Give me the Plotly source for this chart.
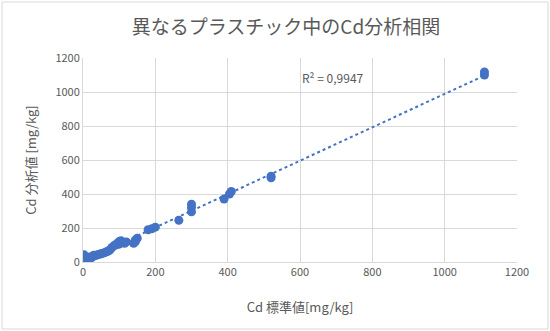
import numpy as np
import plotly.graph_objects as go

# Data
std_vals = [0, 0, 0, 1, 2, 3, 5, 8, 10, 12, 15, 18, 20, 25, 28, 30, 35, 40, 45, 50,
            55, 60, 65, 70, 75, 80, 85, 90, 95, 100, 100, 105, 110, 115, 120,
            140, 145, 150, 145, 180, 190, 200, 265, 300, 300, 300, 390, 405, 410,
            520, 520, 1110, 1110]
meas_vals = [5, 12, 20, 28, 38, 42, 8, 15, 20, 25, 18, 30, 22, 28, 35, 40, 38, 42, 45, 48,
             52, 55, 60, 65, 72, 85, 95, 100, 110, 105, 120, 125, 115, 110, 118,
             110, 130, 140, 120, 190, 195, 205, 245, 295, 320, 340, 370, 400, 415,
             495, 505, 1100, 1118]
x_ticks = [0, 200, 400, 600, 800, 1000, 1200]
y_ticks = [0, 200, 400, 600, 800, 1000, 1200]
title_text = "異なるプラスチック中のCd分析相関"
x_title = "Cd 標準値[mg/kg]"
y_title = "Cd 分析値 [mg/kg]"
r2_text = "R² = 0,9947"

W, H = 550, 331
ml, mr, mt, mb = 83, 33, 58, 69

xs = np.array(std_vals, dtype=float)
ys = np.array(meas_vals, dtype=float)
slope, intercept = np.polyfit(xs, ys, 1)
fx = np.array([xs.min(), xs.max()])
fy = slope * fx + intercept

blue = "#4472C4"
gray = "#595959"
grid = "#D9D9D9"
font = "Noto Sans CJK JP"

fig = go.Figure()
fig.add_trace(go.Scatter(x=xs, y=ys, mode="markers",
                         marker=dict(color=blue, size=9, line=dict(width=0)),
                         showlegend=False, hoverinfo="skip"))
fig.add_trace(go.Scatter(x=fx, y=fy, mode="lines",
                         line=dict(color=blue, width=2, dash="dot"),
                         showlegend=False, hoverinfo="skip"))

pw = W - ml - mr
ph = H - mt - mb
fig.add_shape(type="rect", xref="paper", yref="paper",
              x0=(2 - ml) / pw, x1=(548 - ml) / pw,
              y0=(H - 329 - mb) / ph, y1=(H - 2 - mb) / ph,
              line=dict(color=grid, width=1), fillcolor="rgba(0,0,0,0)", layer="below")

fig.add_annotation(x=600, y=1088, xref="x", yref="y", text=r2_text, showarrow=False,
                   xanchor="left", yanchor="middle",
                   font=dict(family=font, size=12, color=gray))

fig.update_layout(
    width=W, height=H,
    margin=dict(l=ml, r=mr, t=mt, b=mb),
    paper_bgcolor="white", plot_bgcolor="white",
    title=dict(text=title_text, x=(286) / W, xanchor="center", y=1 - 27 / H, yanchor="middle",
               font=dict(family=font, size=19, color=gray)),
    font=dict(family=font, color=gray),
)
fig.update_xaxes(range=[0, 1200], tickvals=x_ticks, showgrid=True, gridcolor=grid, gridwidth=1,
                 zeroline=False, showline=True, linecolor=grid, linewidth=1, ticks="",
                 tickfont=dict(family=font, size=11, color=gray),
                 title=dict(text=x_title, font=dict(family=font, size=13, color=gray), standoff=24))
fig.update_yaxes(range=[0, 1200], tickvals=y_ticks, showgrid=True, gridcolor=grid, gridwidth=1,
                 zeroline=False, showline=True, linecolor=grid, linewidth=1, ticks="",
                 tickfont=dict(family=font, size=11, color=gray),
                 title=dict(text=y_title, font=dict(family=font, size=13, color=gray), standoff=15))

fig.write_html("out.html")
